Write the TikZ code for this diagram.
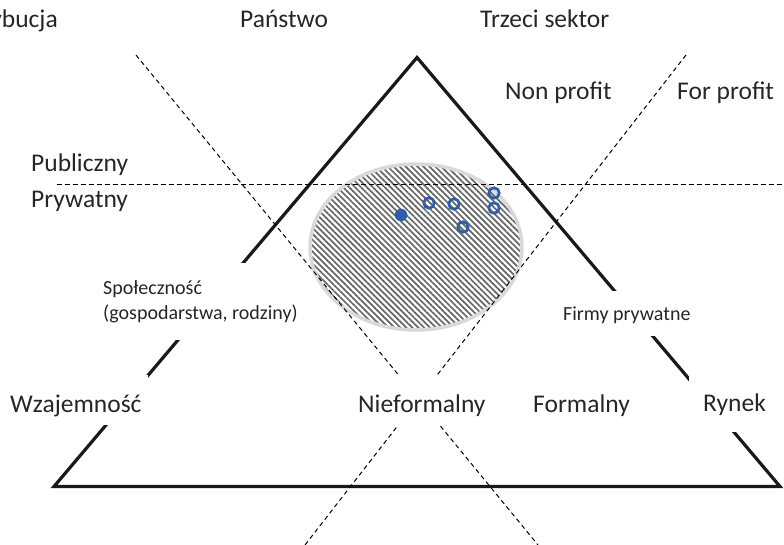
\documentclass[tikz,border=0pt]{standalone}
\usepackage{fontspec}
\setmainfont{Carlito}
\usetikzlibrary{patterns.meta}
\definecolor{txt}{HTML}{262626}
\definecolor{dotblue}{HTML}{2E5EA8}
\definecolor{rimgray}{HTML}{D9D9D9}
\definecolor{hatch}{HTML}{666666}
\begin{document}
\begin{tikzpicture}[x=1bp,y=-1bp,
  lbl/.style={font=\fontsize{25.5bp}{30bp}\selectfont, text=txt, inner sep=0pt},
  small/.style={font=\fontsize{20bp}{25bp}\selectfont, text=txt, inner sep=0pt},
  mask/.style={fill=white},
  tri/.style={line width=3.2bp, draw=black!90, line join=miter},
  guide/.style={line width=1bp, draw=black, dash pattern=on 4.5bp off 3.5bp},
  hollow/.style={circle, draw=dotblue, line width=2.7bp, minimum size=10.5bp, inner sep=0pt},
  fulldot/.style={circle, fill=dotblue, minimum size=12.5bp, inner sep=0pt}
]
\useasboundingbox (0,0) rectangle (784,545);

% ellipse with hatch
\fill[white] (416,247) ellipse [x radius=106bp, y radius=83bp];
\fill[pattern={Lines[angle=-45, distance=4.2bp, line width=1.7bp]}, pattern color=hatch]
  (416,247) ellipse [x radius=106bp, y radius=83bp];
\draw[draw=rimgray, line width=3.5bp] (416,247) ellipse [x radius=106bp, y radius=83bp];

% triangle
\coordinate (A) at (417,57.5);
\coordinate (BL) at (54,486.5);
\coordinate (BR) at (780,486.5);
\draw[tri] (BL) -- (A) -- (BR) -- cycle;

% dashed guides
\coordinate (g1s) at (136,55);
\coordinate (g1e) at (538,545);
\coordinate (g2s) at (686,55);
\coordinate (g2e) at (305,545);
\coordinate (h1) at (57,185);
\coordinate (h2) at (784,185);
\draw[guide] (g1s) -- (g1e);
\draw[guide] (g2s) -- (g2e);
\draw[guide] (h1) -- (h2);

% dots
\node[fulldot] (d0) at (401,215) {};
\node[hollow] (d1) at (429,203) {};
\node[hollow] (d2) at (454,204) {};
\node[hollow] (d3) at (463,227) {};
\node[hollow] (d4) at (494,193) {};
\node[hollow] (d5) at (494,208) {};

% top labels
\node[lbl, anchor=base east] (redys) at (58,28) {Redystrybucja};
\node[lbl, anchor=base west] (panstwo) at (240,28) {Państwo};
\node[lbl, anchor=base west] (trzeci) at (480,28) {Trzeci sektor};
\node[lbl, anchor=base west] (nonp) at (505,100) {Non profit};
\node[lbl, anchor=base west] (forp) at (677,100) {For profit};
\node[lbl, anchor=base west] (publ) at (31,172) {Publiczny};
\node[lbl, anchor=base west] (pryw) at (31,208) {Prywatny};

% masked labels
\node[small, mask, anchor=north west, align=left, inner xsep=2bp, inner ysep=0pt, minimum height=77bp]
  (spol) at (101,263) {Społeczność\\(gospodarstwa, rodziny)};
\node[small, mask, anchor=base west, inner xsep=4bp, text height=29bp, text depth=16bp]
  (firmy) at (559,320) {Firmy prywatne};
\node[lbl, mask, anchor=base west, inner xsep=6bp, text height=37bp, text depth=13bp]
  (wzaj) at (4,412) {Wzajemność};
\node[lbl, mask, anchor=base west, inner xsep=4bp, text height=36bp, text depth=14bp]
  (niefor) at (354,412) {Nieformalny};
\node[lbl, anchor=base west] (formal) at (533,412) {Formalny};
\node[lbl, mask, anchor=base west, inner xsep=14bp, text height=36bp, text depth=21bp]
  (rynek) at (689,411) {Rynek};
\end{tikzpicture}
\end{document}
